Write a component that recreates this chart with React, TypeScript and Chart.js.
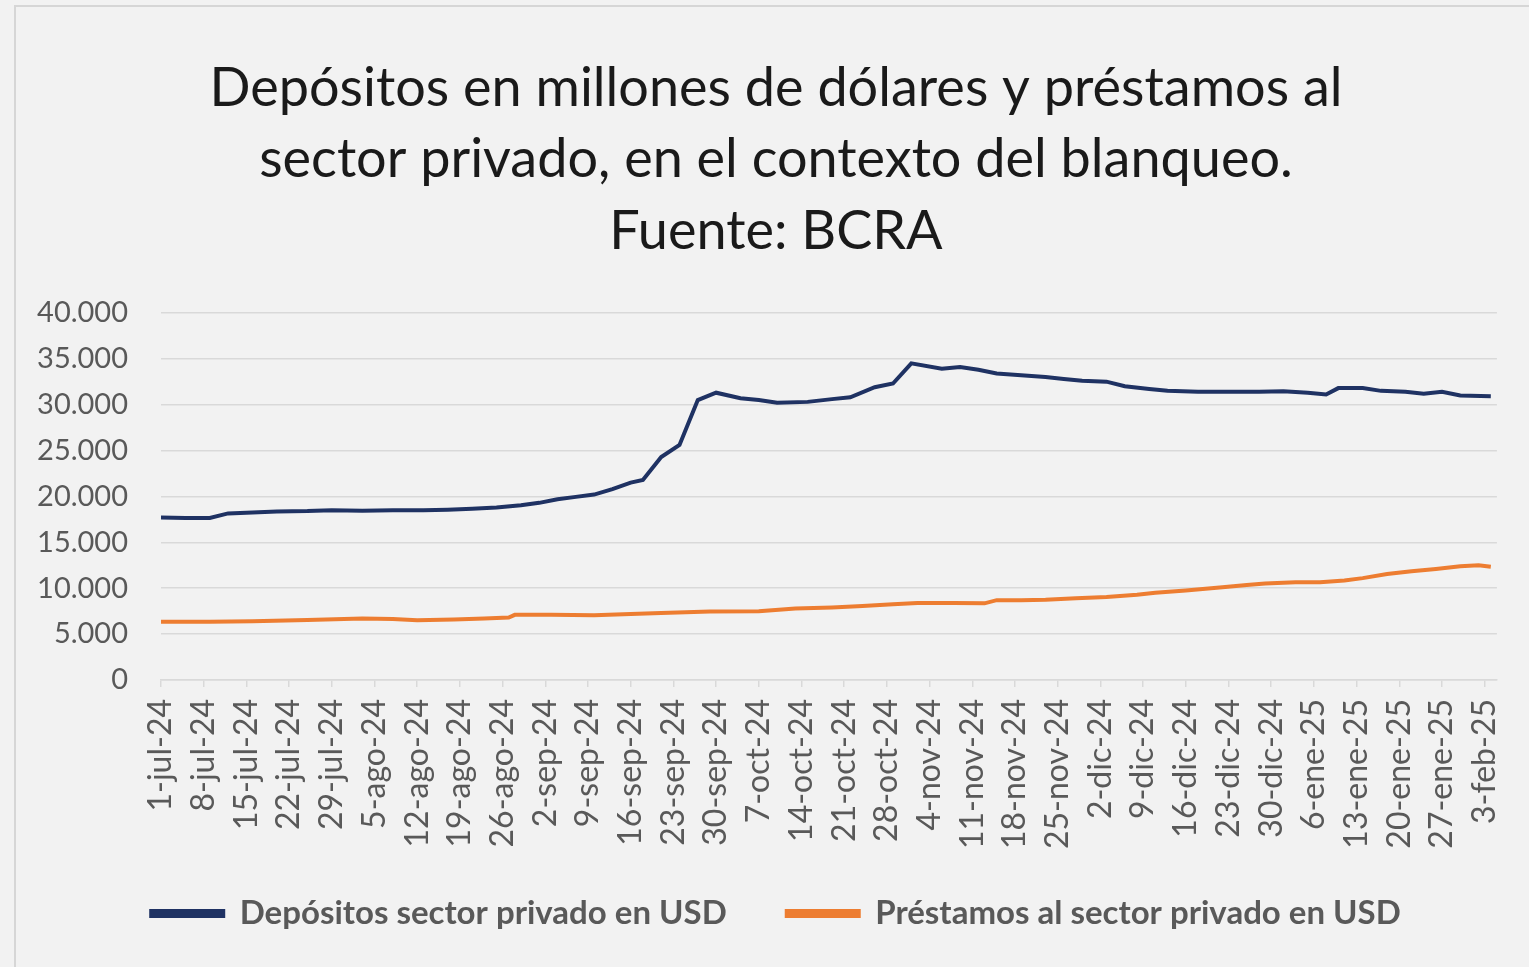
import React, { useEffect, useRef } from "react";
import { Chart, registerables } from "chart.js";

Chart.register(...registerables);

const TITLE_LINES = [
  "Depósitos en millones de dólares y préstamos al",
  "sector privado, en el contexto del blanqueo.",
  "Fuente: BCRA",
];

// x = days since 1-jul-24; tick every 7 days
const X_LABELS = [
  "1-jul-24", "8-jul-24", "15-jul-24", "22-jul-24", "29-jul-24",
  "5-ago-24", "12-ago-24", "19-ago-24", "26-ago-24",
  "2-sep-24", "9-sep-24", "16-sep-24", "23-sep-24", "30-sep-24",
  "7-oct-24", "14-oct-24", "21-oct-24", "28-oct-24",
  "4-nov-24", "11-nov-24", "18-nov-24", "25-nov-24",
  "2-dic-24", "9-dic-24", "16-dic-24", "23-dic-24", "30-dic-24",
  "6-ene-25", "13-ene-25", "20-ene-25", "27-ene-25", "3-feb-25",
];
const X_MAX_DAY = 219;

const DEP_LABEL = "Depósitos sector privado en USD";
const DEP_DAYS = [
  0, 4, 8, 11, 15, 19, 24, 28, 33, 38, 43, 47, 51, 55, 59, 62, 65, 68, 71, 74,
  77, 79, 82, 85, 88, 91, 95, 98, 101, 106, 110, 113, 117, 120, 123, 128, 131,
  134, 137, 141, 145, 148, 151, 155, 158, 162, 165, 170, 175, 180, 184, 188,
  191, 193, 197, 200, 204, 207, 210, 213, 218,
];
const DEP_VALUES = [
  17700, 17650, 17650, 18150, 18250, 18350, 18400, 18500, 18450, 18500, 18500,
  18550, 18650, 18800, 19050, 19300, 19700, 19950, 20200, 20800, 21500, 21800,
  24300, 25600, 30500, 31300, 30700, 30500, 30200, 30300, 30600, 30800, 31900,
  32300, 34500, 33900, 34100, 33800, 33400, 33200, 33000, 32800, 32600, 32500,
  32000, 31700, 31500, 31400, 31400, 31400, 31450, 31300, 31100, 31800, 31800,
  31500, 31400, 31200, 31400, 31000, 30900,
];

const LOAN_LABEL = "Préstamos al sector privado en USD";
const LOAN_DAYS = [
  0, 8, 15, 24, 33, 38, 42, 48, 53, 57, 58, 64, 71, 77, 82, 90, 98, 104, 110,
  115, 120, 124, 130, 135, 137, 141, 145, 150, 155, 160, 163, 168, 174, 178,
  181, 186, 190, 194, 197, 201, 205, 209, 213, 216, 218,
];
const LOAN_VALUES = [
  6350, 6350, 6400, 6550, 6700, 6650, 6500, 6600, 6700, 6800, 7100, 7100, 7050,
  7200, 7300, 7450, 7500, 7800, 7900, 8050, 8250, 8400, 8400, 8350, 8700, 8700,
  8750, 8900, 9050, 9300, 9500, 9750, 10100, 10350, 10500, 10650, 10650, 10850,
  11100, 11550, 11850, 12100, 12400, 12500, 12350,
];

const DEP_COLOR = "#1f3263";
const LOAN_COLOR = "#ED7D31";
const TEXT_GRAY = "#595959";
const GRID = "#d9d9d9";
const FONT = "Lato";

const toPoints = (xs: number[], ys: number[]) => xs.map((x, i) => ({ x, y: ys[i] }));

export default function App() {
  const ref = useRef<HTMLCanvasElement | null>(null);

  useEffect(() => {
    if (!ref.current) return;
    const chart = new Chart(ref.current, {
      type: "line",
      data: {
        datasets: [
          {
            label: DEP_LABEL,
            data: toPoints(DEP_DAYS, DEP_VALUES),
            borderColor: DEP_COLOR,
            backgroundColor: DEP_COLOR,
            borderWidth: 4,
            pointRadius: 0,
            tension: 0,
          },
          {
            label: LOAN_LABEL,
            data: toPoints(LOAN_DAYS, LOAN_VALUES),
            borderColor: LOAN_COLOR,
            backgroundColor: LOAN_COLOR,
            borderWidth: 4,
            pointRadius: 0,
            tension: 0,
          },
        ],
      },
      options: {
        animation: false,
        responsive: false,
        maintainAspectRatio: false,
        layout: { padding: { left: 55, right: 32, top: 0, bottom: 27 } },
        plugins: {
          title: {
            display: true,
            text: TITLE_LINES,
            color: "#1a1a1a",
            font: { family: FONT, size: 54, weight: "normal", lineHeight: 1.32 },
            padding: { top: 53, bottom: 46 },
          },
          legend: {
            position: "bottom",
            labels: {
              color: TEXT_GRAY,
              font: { family: FONT, size: 33, weight: "bold" },
              boxWidth: 72,
              boxHeight: 5,
              padding: 60,
            },
          },
          tooltip: { enabled: false },
        },
        scales: {
          x: {
            type: "linear",
            min: 0,
            max: X_MAX_DAY,
            afterBuildTicks: (axis: any) => {
              axis.ticks = X_LABELS.map((_, i) => ({ value: i * 7 }));
            },
            afterFit: (scale: any) => {
              scale.height = 157;
              scale._computeLabelArea = () => undefined;
            },
            ticks: {
              autoSkip: false,
              minRotation: 90,
              maxRotation: 90,
              color: TEXT_GRAY,
              font: { family: FONT, size: 32, lineHeight: 1 },
              padding: 12,
              callback: (v: any) => X_LABELS[Math.round(Number(v) / 7)] ?? "",
            },
            grid: {
              display: true,
              drawOnChartArea: false,
              drawTicks: true,
              tickLength: 7,
              color: GRID,
              lineWidth: 1.5,
            },
            border: { display: true, color: GRID, width: 1.5 },
          },
          y: {
            min: 0,
            max: 40000,
            afterFit: (scale: any) => {
              scale.width = 106;
              scale._computeLabelArea = () => undefined;
            },
            ticks: {
              stepSize: 5000,
              color: TEXT_GRAY,
              font: { family: FONT, size: 29 },
              padding: 33,
              callback: (v: any) =>
                String(v).replace(/\B(?=(\d{3})+(?!\d))/g, "."),
            },
            grid: { color: GRID, lineWidth: 1.5, drawTicks: false },
            border: { display: false },
          },
        },
      },
    });
    return () => chart.destroy();
  }, []);

  return (
    <div style={{ position: "fixed", inset: 0, background: "#f2f2f2" }}>
      <div
        style={{
          position: "absolute",
          left: 14,
          top: 5,
          right: -20,
          bottom: -20,
          border: "2px solid #d6d6d6",
        }}
      />
      <canvas
        ref={ref}
        width={1529}
        height={967}
        style={{ position: "absolute", left: 0, top: 0, width: 1529, height: 967 }}
      />
    </div>
  );
}
